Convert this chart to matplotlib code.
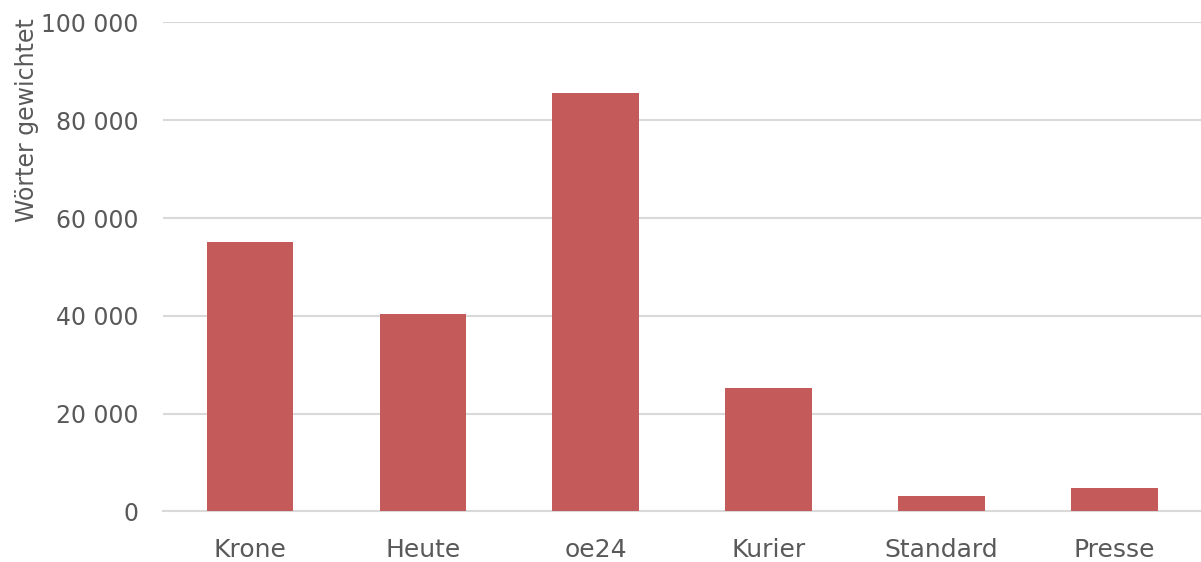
import numpy as np
import matplotlib.pyplot as plt
from matplotlib.ticker import FuncFormatter

# Daten
zeitungen = ['Krone', 'Heute', 'oe24', 'Kurier', 'Standard', 'Presse']
woerter = [55100, 40300, 85500, 25200, 3100, 4700]

grau = '#595959'
plt.rcParams['font.family'] = ['DejaVu Sans']

fig, ax = plt.subplots(figsize=(12.01, 5.62), dpi=100)
fig.subplots_adjust(left=0.136, right=1.0, top=0.96, bottom=0.09)

x = np.arange(len(zeitungen))
ax.bar(x, woerter, width=0.5, color='#c55a5a', zorder=3)

ax.set_xlim(-0.5, len(zeitungen) - 0.5)
ax.set_ylim(0, 100000)
ax.set_yticks(np.arange(0, 100001, 20000))
ax.yaxis.set_major_formatter(FuncFormatter(lambda v, p: f'{int(v):,}'.replace(',', ' ')))
ax.set_xticks(x)
ax.set_xticklabels(zeitungen)

ax.grid(axis='y', color='#d9d9d9', linewidth=1.5, zorder=0)
for s in ['top', 'right', 'left']:
    ax.spines[s].set_visible(False)
ax.spines['bottom'].set_color('#d9d9d9')
ax.spines['bottom'].set_linewidth(1.5)
ax.tick_params(length=0, colors=grau)
ax.tick_params(axis='y', pad=18, labelsize=17)
ax.tick_params(axis='x', pad=19, labelsize=18)

ax.set_ylabel('Wörter gewichtet', fontsize=17, color=grau)
ax.yaxis.set_label_coords(-0.12, 0.8)

plt.savefig('out.png')
